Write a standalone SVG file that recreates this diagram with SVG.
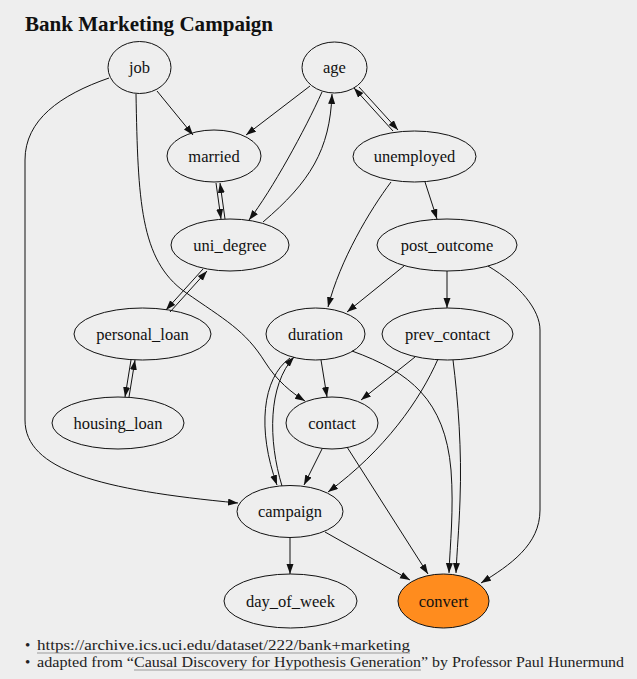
<svg xmlns="http://www.w3.org/2000/svg" width="637" height="679" viewBox="0 0 637 679">
<defs>
<style>
.bg{fill:#eeeeee}
.node ellipse{fill:none;stroke:#111;stroke-width:1}
.node text{font-family:"Liberation Serif","DejaVu Serif",serif;font-size:16.5px;fill:#111;text-anchor:middle;dominant-baseline:central}
.edges path{fill:none;stroke:#111;stroke-width:1;marker-end:url(#arr)}
.title{font-family:"Liberation Serif","DejaVu Serif",serif;font-weight:bold;font-size:21px;fill:#111}
.foot{font-family:"Liberation Serif","DejaVu Serif",serif;font-size:15px;fill:#222}
.ul{stroke:#999;stroke-width:1.2}
</style>
<marker id="arr" markerUnits="userSpaceOnUse" markerWidth="10" markerHeight="8" refX="10" refY="3.5" orient="auto">
<path d="M0,0 L10,3.5 L0,7 z" fill="#111"/>
</marker>
</defs>
<rect class="bg" x="0" y="0" width="637" height="679"/>
<text class="title" x="25" y="31" textLength="248" lengthAdjust="spacingAndGlyphs">Bank Marketing Campaign</text>

<g class="edges">
<path d="M157,91 L193,135"/>
<path d="M136,94 C138,200 140,260 185,292 C225,320 245,330 265,362 C277,381 292,393 305,401"/>
<path d="M109,78 C60,95 25,120 25,160 L25,420 C25,470 100,490 238,503"/>
<path d="M310,86 L246,135"/>
<path d="M322,92 C305,130 272,190 249,220"/>
<path d="M263,222 C310,182 330,150 332,94"/>
<path d="M359,87 L398,130"/>
<path d="M393,131 L354,88"/>
<path d="M216,183 L221,219"/>
<path d="M225,219 L220,183"/>
<path d="M203,269 L166,310"/>
<path d="M170,312 L207,271"/>
<path d="M131,360 L125,397"/>
<path d="M129,397 L135,360"/>
<path d="M391,182 C370,210 340,260 328,307"/>
<path d="M425,182 L437,219"/>
<path d="M404,266 L347,312"/>
<path d="M447,271 L447,308"/>
<path d="M488,266 C520,285 540,310 540,330 L540,510 C540,545 510,565 481,583"/>
<path d="M321,360 L327,397"/>
<path d="M290,358 C262,378 257,430 277,485"/>
<path d="M282,486 C268,440 268,385 294,357"/>
<path d="M352,351 C410,372 445,400 451,470 C454,510 450,545 449,573"/>
<path d="M415,357 L361,400"/>
<path d="M438,359 C420,400 385,450 328,492"/>
<path d="M453,360 C458,400 462,450 460,500 C459,530 457,550 456,573"/>
<path d="M322,449 L304,485"/>
<path d="M347,447 L428,574"/>
<path d="M290,538 L290,574"/>
<path d="M325,532 L410,580"/>
</g>

<g id="job" class="node"><ellipse cx="139.5" cy="67.5" rx="31.5" ry="26"/><text x="139.5" y="67.5">job</text></g>
<g id="age" class="node"><ellipse cx="334.5" cy="67.5" rx="32.5" ry="25.5"/><text x="334.5" y="67.5">age</text></g>
<g id="married" class="node"><ellipse cx="214" cy="156" rx="47" ry="26"/><text x="214" y="156">married</text></g>
<g id="unemployed" class="node"><ellipse cx="414.5" cy="156.5" rx="61.5" ry="25.5"/><text x="414.5" y="156.5">unemployed</text></g>
<g id="uni_degree" class="node"><ellipse cx="230" cy="245" rx="59" ry="26"/><text x="230" y="245">uni_degree</text></g>
<g id="post_outcome" class="node"><ellipse cx="447" cy="245" rx="70" ry="26"/><text x="447" y="245">post_outcome</text></g>
<g id="personal_loan" class="node"><ellipse cx="142.5" cy="334" rx="68.5" ry="26"/><text x="142.5" y="334">personal_loan</text></g>
<g id="duration" class="node"><ellipse cx="315.5" cy="334" rx="49.5" ry="26"/><text x="315.5" y="334">duration</text></g>
<g id="prev_contact" class="node"><ellipse cx="447.5" cy="334" rx="65.5" ry="26"/><text x="447.5" y="334">prev_contact</text></g>
<g id="housing_loan" class="node"><ellipse cx="118" cy="423" rx="66" ry="26"/><text x="118" y="423">housing_loan</text></g>
<g id="contact" class="node"><ellipse cx="332" cy="423" rx="46" ry="26"/><text x="332" y="423">contact</text></g>
<g id="campaign" class="node"><ellipse cx="290" cy="511.5" rx="53" ry="26"/><text x="290" y="511.5">campaign</text></g>
<g id="day_of_week" class="node"><ellipse cx="290.5" cy="601" rx="66.5" ry="27"/><text x="290.5" y="601">day_of_week</text></g>
<g id="convert" class="node"><ellipse cx="443.5" cy="601" rx="45.5" ry="27" style="fill:#ff8c1e"/><text x="443.5" y="601">convert</text></g>

<g id="footer">
<text class="foot" x="25" y="650">•</text>
<text class="foot" x="37" y="650" textLength="373" lengthAdjust="spacingAndGlyphs">https://archive.ics.uci.edu/dataset/222/bank+marketing</text>
<line class="ul" x1="37" y1="653" x2="410" y2="653"/>
<text class="foot" x="25" y="667">•</text>
<text class="foot" x="37" y="667" textLength="97" lengthAdjust="spacingAndGlyphs">adapted from “</text>
<text class="foot" x="134" y="667" textLength="287" lengthAdjust="spacingAndGlyphs">Causal Discovery for Hypothesis Generation</text>
<line class="ul" x1="134" y1="670" x2="421" y2="670"/>
<text class="foot" x="421" y="667" textLength="203" lengthAdjust="spacingAndGlyphs">” by Professor Paul Hunermund</text>
</g>
</svg>
